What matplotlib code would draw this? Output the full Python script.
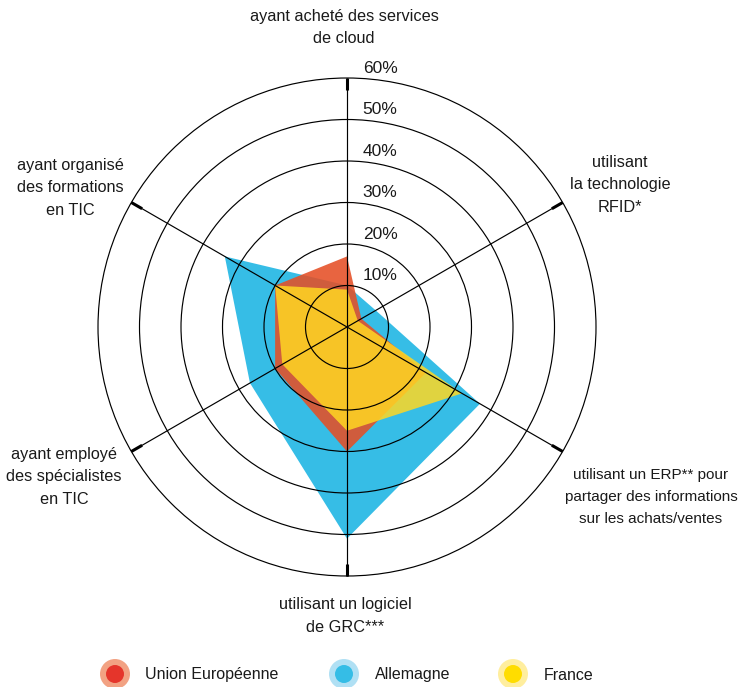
import numpy as np
import matplotlib
matplotlib.use("Agg")
import matplotlib.pyplot as plt
from matplotlib.patches import Circle

# Radar axes, clockwise from the top
categories = [
    "ayant acheté des services\nde cloud",
    "utilisant\nla technologie\nRFID*",
    "utilisant un ERP** pour\npartager des informations\nsur les achats/ventes",
    "utilisant un logiciel\nde GRC***",
    "ayant employé\ndes spécialistes\nen TIC",
    "ayant organisé\ndes formations\nen TIC",
]
axis_angles_deg = [90, 30, -30, -90, -150, 150]

# Share of enterprises (%)
union_europeenne = [17, 4, 22, 30, 20, 20]
allemagne = [10, 8, 37, 51, 27, 34]
france = [9, 3, 32, 25, 18, 20]

series_names = ["Union Européenne", "Allemagne", "France"]
ring_values = [10, 20, 30, 40, 50, 60]
ring_labels = ["10%", "20%", "30%", "40%", "50%", "60%"]

W, H, DPI = 742, 687, 100
SCALE = 4.15          # pixels per percentage point
CX, CY = 347, 327     # centre of the radar in pixels

FONT = ["Liberation Sans Narrow", "Liberation Sans", "DejaVu Sans"]
plt.rcParams["font.family"] = FONT

fig = plt.figure(figsize=(W / DPI, H / DPI), dpi=DPI)
ax = fig.add_axes([0, 0, 1, 1])
ax.set_xlim(-CX / SCALE, (W - CX) / SCALE)
ax.set_ylim(-(H - CY) / SCALE, CY / SCALE)
ax.axis("off")


def px(x, y):
    """Pixel position -> data position."""
    return (x - CX) / SCALE, (CY - y) / SCALE


theta = np.deg2rad(axis_angles_deg)


def polygon(values):
    v = np.asarray(values, dtype=float)
    return v * np.cos(theta), v * np.sin(theta)


# Filled series
x, y = polygon(allemagne)
ax.fill(x, y, color="#36BDE6", lw=0, zorder=1)
x, y = polygon(union_europeenne)
ax.fill(x, y, color="#E54F25", alpha=0.88, lw=0, zorder=2)
x, y = polygon(france)
ax.fill(x, y, color="#FFD723", alpha=0.85, lw=0, zorder=3)

# Rings and spokes
rmax = ring_values[-1]
for r in ring_values:
    ax.add_patch(Circle((0, 0), r, fill=False, ec="black", lw=0.85, zorder=5))
for t in theta:
    ax.plot([0, rmax * np.cos(t)], [0, rmax * np.sin(t)], color="black",
            lw=0.85, zorder=5, solid_capstyle="butt")
    ax.plot([(rmax - 3) * np.cos(t), rmax * np.cos(t)],
            [(rmax - 3) * np.sin(t), rmax * np.sin(t)], color="black",
            lw=2.2, zorder=5, solid_capstyle="butt")

# Ring labels along the top spoke
for r, lbl in zip(ring_values, ring_labels):
    ax.text(8, r + 2.4, lbl, ha="center", va="center", fontsize=12.5,
            color="#1a1a1a", zorder=6)

# Category labels
label_px = [(344, 27.5), (620, 185), (651, 497), (345, 616), (64, 477), (70, 188)]
label_size = [11.7, 11.7, 11.0, 11.7, 11.7, 11.7]
for (lx, ly), txt, fs in zip(label_px, categories, label_size):
    ax.text(*px(lx, ly), txt, ha="center", va="center", fontsize=fs,
            linespacing=1.65 * 11.7 / fs, color="#1a1a1a")

# Legend
legend_colors = [("#F2A283", "#E5352B"), ("#B0E0F4", "#35BDE6"), ("#FFEE9E", "#FFDD00")]
marker_px = [115, 344, 513]
text_px = [145, 375, 544]
for name, (outer, inner), mx, tx in zip(series_names, legend_colors, marker_px, text_px):
    cxy = px(mx, 674)
    ax.add_patch(Circle(cxy, 15 / SCALE, color=outer, lw=0))
    ax.add_patch(Circle(cxy, 9 / SCALE, color=inner, lw=0))
    ax.text(*px(tx, 675), name, ha="left", va="center", fontsize=11.5,
            family=["Liberation Sans", "DejaVu Sans"], color="#1a1a1a")

fig.savefig("out.png", dpi=DPI)
